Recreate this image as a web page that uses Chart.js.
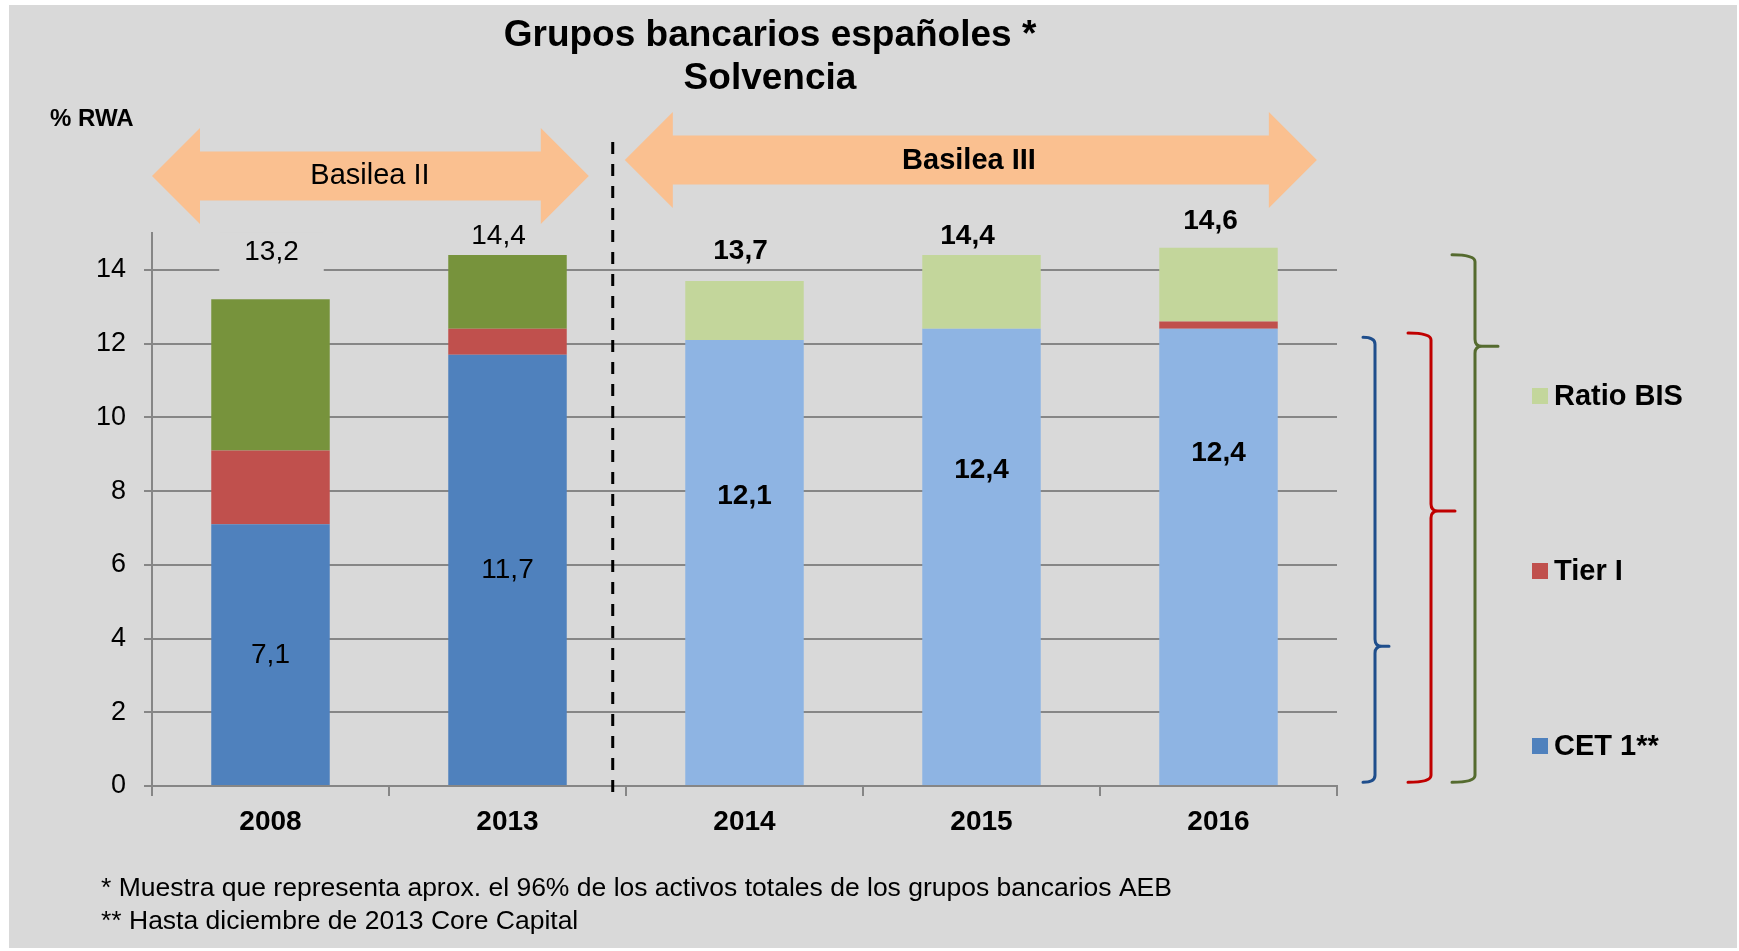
<!DOCTYPE html>
<html>
<head>
<meta charset="utf-8">
<title>Grupos bancarios españoles - Solvencia</title>
<script src="https://cdn.jsdelivr.net/npm/chart.js"></script>
<style>
  html, body { margin: 0; padding: 0; background: #fff; }
</style>
</head>
<body>
<canvas id="solvChart" width="1739" height="951"></canvas>
<script>
// data
const years = ['2008', '2013', '2014', '2015', '2016'];
const regime = ['Basilea II', 'Basilea II', 'Basilea III', 'Basilea III', 'Basilea III'];
const cet1 = [7.1, 11.7, 12.1, 12.4, 12.4];
const tier1 = [2.0, 0.7, 0, 0, 0.2];
const ratioBis = [4.1, 2.0, 1.6, 2.0, 2.0];
const totals = [13.2, 14.4, 13.7, 14.4, 14.6];
const yTicks = [0, 2, 4, 6, 8, 10, 12, 14];
const seriesNames = ['CET 1**', 'Tier I', 'Ratio BIS'];

const FONT = '"Liberation Sans", Arial, sans-serif';
const fmt = v => v.toFixed(1).replace('.', ',');
const isNew = i => regime[i] === 'Basilea III';

// colours: old regime (dark) / new regime (light)
const cetCol = years.map((y, i) => isNew(i) ? '#8EB4E3' : '#4F81BD');
const tierCol = years.map(() => '#C0504D');
const bisCol = years.map((y, i) => isNew(i) ? '#C3D69B' : '#77933C');

// label placement tweaks (pixels), as in the original slide
const totalDx = [1, -9, -4, -14, -8];
const totalLift = [47, 19, 30, 19, 26];
const totalBoxed = [true, false, false, false, false];
const innerShift = [0, 0, -67, -87, -104];

// braces on the right: value ranges + x offsets from the plot's right edge
const braces = [
  { color: '#1F4E8C', top: 12.17, tip: 3.79, bottom: 0.1, xv: 38, xl: 26, xt: 52 },
  { color: '#C00000', top: 12.29, tip: 7.46, bottom: 0.1, xv: 94, xl: 71, xt: 118 },
  { color: '#556B2F', top: 14.41, tip: 11.93, bottom: 0.1, xv: 138, xl: 115, xt: 161 }
];

function drawArrow(ctx, x0, x1, cy, head, headH, shaftH) {
  ctx.beginPath();
  ctx.moveTo(x0, cy);
  ctx.lineTo(x0 + head, cy - headH);
  ctx.lineTo(x0 + head, cy - shaftH);
  ctx.lineTo(x1 - head, cy - shaftH);
  ctx.lineTo(x1 - head, cy - headH);
  ctx.lineTo(x1, cy);
  ctx.lineTo(x1 - head, cy + headH);
  ctx.lineTo(x1 - head, cy + shaftH);
  ctx.lineTo(x0 + head, cy + shaftH);
  ctx.lineTo(x0 + head, cy + headH);
  ctx.closePath();
  ctx.fill();
}

function drawBrace(ctx, xl, xv, xt, yTop, yTip, yBot, color) {
  const r = 7;
  ctx.strokeStyle = color;
  ctx.lineWidth = 3;
  ctx.lineCap = 'round';
  ctx.beginPath();
  ctx.moveTo(xl, yTop);
  ctx.quadraticCurveTo(xv, yTop, xv, yTop + r);
  ctx.lineTo(xv, yTip - r);
  ctx.quadraticCurveTo(xv, yTip, xv + r, yTip);
  ctx.lineTo(xt, yTip);
  ctx.moveTo(xv + r, yTip);
  ctx.quadraticCurveTo(xv, yTip, xv, yTip + r);
  ctx.lineTo(xv, yBot - r);
  ctx.quadraticCurveTo(xv, yBot, xl, yBot);
  ctx.stroke();
}

const decor = {
  id: 'decor',
  beforeDraw(chart) {
    const ctx = chart.ctx;
    ctx.save();
    ctx.fillStyle = '#ffffff';
    ctx.fillRect(0, 0, chart.width, chart.height);
    ctx.fillStyle = '#D9D9D9';
    ctx.fillRect(9, 5, chart.width - 11, chart.height - 8);
    ctx.restore();
  },
  afterDatasetsDraw(chart) {
    const ctx = chart.ctx;
    const xs = chart.scales.x, ys = chart.scales.y;
    const area = chart.chartArea;
    ctx.save();
    ctx.textAlign = 'center';
    ctx.textBaseline = 'middle';

    // totals above the bars
    totals.forEach((t, i) => {
      const x = xs.getPixelForValue(i) + totalDx[i];
      const y = ys.getPixelForValue(t) - totalLift[i];
      ctx.font = (isNew(i) ? 'bold ' : '') + '28px ' + FONT;
      if (totalBoxed[i]) {
        const w = ctx.measureText(fmt(t)).width;
        ctx.fillStyle = '#D9D9D9';
        ctx.fillRect(x - w / 2 - 25, y - 20, w + 50, 42);
      }
      ctx.fillStyle = '#000';
      ctx.fillText(fmt(t), x, y);
    });

    // CET 1 values inside the bars
    cet1.forEach((v, i) => {
      const x = xs.getPixelForValue(i);
      const y = (ys.getPixelForValue(0) + ys.getPixelForValue(v)) / 2 + innerShift[i];
      ctx.font = (isNew(i) ? 'bold ' : '') + '28px ' + FONT;
      ctx.fillStyle = '#000';
      ctx.fillText(fmt(v), x, y);
    });

    // dashed separator between regimes
    const sepX = xs.getPixelForValue(1.444);
    ctx.strokeStyle = '#000';
    ctx.lineWidth = 3;
    ctx.setLineDash([12, 10]);
    ctx.beginPath();
    ctx.moveTo(sepX, 142);
    ctx.lineTo(sepX, area.bottom + 11);
    ctx.stroke();
    ctx.setLineDash([]);

    // Basilea arrows
    ctx.fillStyle = '#FAC090';
    drawArrow(ctx, xs.getPixelForValue(-0.5), xs.getPixelForValue(1.343), 176, 48, 48, 24.5);
    drawArrow(ctx, xs.getPixelForValue(1.495), xs.getPixelForValue(4.415), 160, 48, 48, 24.5);
    ctx.fillStyle = '#000';
    ctx.font = '29px ' + FONT;
    ctx.fillText('Basilea II', 370, 176);
    ctx.font = 'bold 29px ' + FONT;
    ctx.fillText('Basilea III', 969, 161);

    // braces
    braces.forEach(b => {
      drawBrace(ctx, area.right + b.xl, area.right + b.xv, area.right + b.xt,
        ys.getPixelForValue(b.top), ys.getPixelForValue(b.tip), ys.getPixelForValue(b.bottom), b.color);
    });

    // legend (top to bottom: Ratio BIS, Tier I, CET 1**)
    const legendCols = ['#4F81BD', '#C0504D', '#C3D69B'];
    const legendY = [area.top + 513, area.top + 338, area.top + 163];
    ctx.textAlign = 'left';
    ctx.font = 'bold 29px ' + FONT;
    seriesNames.forEach((name, k) => {
      ctx.fillStyle = legendCols[k];
      ctx.fillRect(area.right + 195, legendY[k] - 8, 16, 16);
      ctx.fillStyle = '#000';
      ctx.fillText(name, area.right + 217, legendY[k] + 1);
    });

    // title, unit, footnotes
    ctx.textAlign = 'center';
    ctx.font = 'bold 37px ' + FONT;
    ctx.fillText('Grupos bancarios españoles *', 770, 36);
    ctx.fillText('Solvencia', 770, 79);
    ctx.textAlign = 'left';
    ctx.font = 'bold 24px ' + FONT;
    ctx.fillText('% RWA', 50, 119);
    ctx.font = '26.5px ' + FONT;
    ctx.fillText('* Muestra que representa aprox. el 96% de los activos totales de los grupos bancarios AEB', 101, 889);
    ctx.fillText('** Hasta diciembre de 2013 Core Capital', 101, 922);
    ctx.restore();
  }
};

new Chart(document.getElementById('solvChart'), {
  type: 'bar',
  data: {
    labels: years,
    datasets: [
      { label: seriesNames[0], data: cet1, backgroundColor: cetCol },
      { label: seriesNames[1], data: tier1, backgroundColor: tierCol },
      { label: seriesNames[2], data: ratioBis, backgroundColor: bisCol }
    ]
  },
  options: {
    responsive: false,
    animation: false,
    devicePixelRatio: 1,
    layout: { padding: { left: 0, right: 402, top: 233, bottom: 0 } },
    datasets: { bar: { barPercentage: 0.5, categoryPercentage: 1.0, borderWidth: 0 } },
    plugins: { legend: { display: false }, tooltip: { enabled: false } },
    scales: {
      x: {
        stacked: true,
        offset: true,
        grid: { offset: true, drawOnChartArea: false, tickLength: 10, color: '#868686', lineWidth: 2 },
        border: { display: true, color: '#868686', width: 2 },
        ticks: { color: '#000', padding: 9, font: { family: FONT, size: 28, weight: 'bold' } },
        afterFit(s) { s.height = 165; }
      },
      y: {
        stacked: true,
        min: 0,
        max: 15,
        afterBuildTicks(s) { s.ticks = yTicks.map(v => ({ value: v })); },
        grid: { color: '#868686', lineWidth: 2, tickLength: 8 },
        border: { color: '#868686', width: 2 },
        ticks: { color: '#000', padding: 18, font: { family: FONT, size: 27 } },
        afterFit(s) { s.width = 152; }
      }
    }
  },
  plugins: [decor]
});
</script>
</body>
</html>
